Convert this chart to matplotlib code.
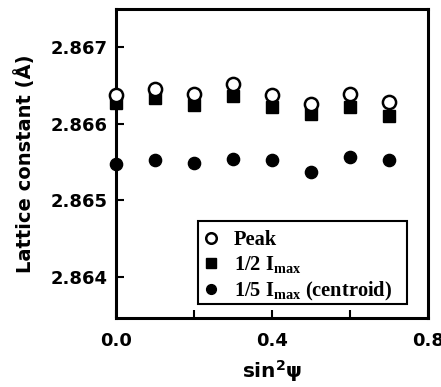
import numpy as np
import matplotlib.pyplot as plt
from matplotlib.patches import Rectangle

# sin^2(psi) positions and lattice constants (A)
sin2psi = [0.0, 0.1, 0.2, 0.3, 0.4, 0.5, 0.6, 0.7]
peak = [2.86637, 2.86645, 2.86639, 2.86652, 2.86637, 2.86626, 2.86638, 2.86628]
half_imax = [2.86627, 2.86633, 2.86624, 2.86636, 2.86621, 2.86613, 2.86621, 2.86610]
fifth_imax = [2.86548, 2.86552, 2.86549, 2.86554, 2.86553, 2.86537, 2.86557, 2.86552]

labels = ['Peak', r'1/2 I$_\mathregular{max}$', r'1/5 I$_\mathregular{max}$ (centroid)']

plt.rcParams['font.family'] = 'DejaVu Sans'
plt.rcParams['font.weight'] = 'bold'

fig = plt.figure(figsize=(4.41, 3.87), dpi=100)
ax = fig.add_axes([116 / 441, 1 - 318 / 387, 312 / 441, 309 / 387])

ax.plot(sin2psi, peak, 'o', ms=9.5, mfc='white', mec='black', mew=1.8,
        label=labels[0], clip_on=False, zorder=4)
ax.plot(sin2psi, half_imax, 's', ms=9, mfc='black', mec='black',
        label=labels[1], clip_on=False, zorder=3)
ax.plot(sin2psi, fifth_imax, 'o', ms=8.8, mfc='black', mec='black',
        label=labels[2], clip_on=False, zorder=3)

ax.set_xlim(0, 0.8)
ax.set_ylim(2.86347, 2.86749)
ax.set_xticks([0.0, 0.4, 0.8])
ax.set_xticks([0.2, 0.6], minor=True)
ax.set_yticks([2.864, 2.865, 2.866, 2.867])
ax.set_xticklabels(['0.0', '0.4', '0.8'])
ax.set_yticklabels(['2.864', '2.865', '2.866', '2.867'])
ax.tick_params(which='both', direction='in', width=1.5, length=6,
               labelsize=13)
ax.tick_params(axis='y', pad=6)
ax.tick_params(axis='x', pad=10)

for sp in ax.spines.values():
    sp.set_linewidth(2.2)

ax.set_ylabel('Lattice constant (Å)', fontsize=14, fontweight='bold', labelpad=11)
ax.set_xlabel('sin$^\\mathregular{2}$ψ', fontsize=14.5, fontweight='bold', labelpad=6)

# legend entries without frame; box drawn separately (x 198-407, y 221-304 px)
leg = ax.legend(loc='lower left', bbox_to_anchor=((198 - 116) / 312, (318 - 309) / 309),
                prop={'family': 'Liberation Serif', 'weight': 'bold', 'size': 14.7},
                frameon=False, markerscale=0.8,
                handlelength=0.7, handletextpad=0.75, labelspacing=0.2,
                borderpad=0.3, borderaxespad=0)
box = Rectangle(((198 - 116) / 312, (318 - 304) / 309), (407 - 198) / 312, (304 - 221) / 309,
                transform=ax.transAxes, fill=False, edgecolor='black', lw=1.5, zorder=5)
ax.add_patch(box)

fig.savefig('out.png', dpi=100)
